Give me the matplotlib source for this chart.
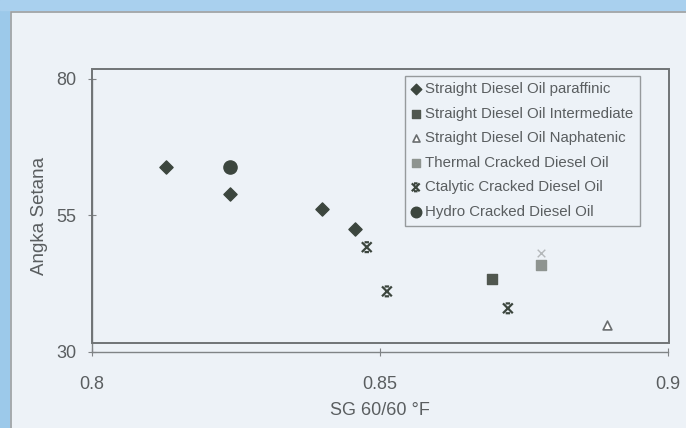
import matplotlib.pyplot as plt
from matplotlib.path import Path
from matplotlib.patches import Rectangle

plt.rcParams['font.family'] = ['Liberation Sans', 'DejaVu Sans']

# data
paraffinic_sg = [0.8128, 0.8240, 0.8399, 0.8457]
paraffinic_cn = [63.8, 59.0, 56.1, 52.6]
intermediate_sg = [0.8694]
intermediate_cn = [43.3]
naphthenic_sg = [0.8894]
naphthenic_cn = [34.9]
thermal_sg = [0.8780]
thermal_cn = [45.9]
thermal_ghost_cn = [48.1]
catalytic_sg = [0.8477, 0.8512, 0.8722]
catalytic_cn = [49.2, 41.1, 38.0]
hydro_sg = [0.8240]
hydro_cn = [63.8]

x_ticks = [0.8, 0.85, 0.9]
x_labels = ['0.8', '0.85', '0.9']
y_ticks = [30, 55, 80]

W, H = 686, 428
dark = '#3c463e'
txt = '#5a5e60'
bg = '#edf2f7'

# star-like marker: an X with short bars top and bottom
star = Path([(-1, -1), (1, 1), (-1, 1), (1, -1), (-0.45, 1), (0.45, 1), (-0.45, -1), (0.45, -1)],
            [Path.MOVETO, Path.LINETO] * 4)

fig = plt.figure(figsize=(W / 100, H / 100), dpi=100, facecolor=bg)
# scan edges and chart frame
fig.patches.append(Rectangle((0, 0), 9 / W, 1, transform=fig.transFigure, color='#9cc9ea', zorder=0))
fig.patches.append(Rectangle((0, 1 - 10 / H), 1, 10 / H, transform=fig.transFigure, color='#a9d0ee', zorder=0))
fig.patches.append(Rectangle((11 / W, -0.1), 1, 1 - 12 / H + 0.1, transform=fig.transFigure,
                             fill=False, ec='#9a9ea0', lw=1.2, zorder=1))
# plot area border (offset from the axes, as in the scan)
fig.patches.append(Rectangle((92 / W, 1 - 343 / H), (669 - 92) / W, (343 - 69) / H,
                             transform=fig.transFigure, fill=False, ec='#707476', lw=1.4, zorder=1))

ax = fig.add_axes([92 / W, 1 - 352 / H, (668 - 92) / W, (352 - 79) / H])
ax.set_facecolor('none')
ax.set_xlim(0.8, 0.9)
ax.set_ylim(30, 80)
for s in ['top', 'right']:
    ax.spines[s].set_visible(False)
for s in ['left', 'bottom']:
    ax.spines[s].set_color('#808486')
    ax.spines[s].set_linewidth(1.0)
ax.set_xticks(x_ticks)
ax.set_xticklabels(x_labels)
ax.set_yticks(y_ticks)
ax.tick_params(colors='#808486', labelcolor=txt, labelsize=13, direction='inout', length=6, pad=14)
ax.tick_params(axis='y', pad=8)

ax.scatter(paraffinic_sg, paraffinic_cn, marker='D', s=45, color=dark, label='Straight Diesel Oil paraffinic', zorder=3)
ax.scatter(intermediate_sg, intermediate_cn, marker='s', s=55, color='#50574f', label='Straight Diesel Oil Intermediate', zorder=3)
ax.scatter(naphthenic_sg, naphthenic_cn, marker='^', s=40, facecolor='white', edgecolor='#6a6e70', linewidth=1.2,
           label='Straight Diesel Oil Naphatenic', zorder=3)
ax.scatter(thermal_sg, thermal_cn, marker='s', s=60, color='#8e9490', label='Thermal Cracked Diesel Oil', zorder=3)
ax.scatter(thermal_sg, thermal_ghost_cn, marker='x', s=30, color='#b4b8ba', linewidth=1, zorder=2)
ax.scatter(catalytic_sg, catalytic_cn, marker=star, s=50, facecolor='none', edgecolor=dark, linewidth=1.6,
           label='Ctalytic Cracked Diesel Oil', zorder=3)
ax.scatter(hydro_sg, hydro_cn, marker='o', s=90, color=dark, label='Hydro Cracked Diesel Oil', zorder=3)

ax.set_xlabel('SG 60/60 °F', fontsize=13, color=txt, labelpad=7)
ax.set_ylabel('Angka Setana', fontsize=13.5, color=txt, labelpad=6)

leg = fig.legend(loc='upper left', bbox_to_anchor=(397 / W, 1 - 68 / H), fontsize=10.8,
                 frameon=True, fancybox=False, edgecolor='#808486', facecolor=bg,
                 handlelength=0.6, handletextpad=0.3, labelspacing=0.7, borderpad=0.45,
                 labelcolor=txt, markerscale=0.8)
leg.get_frame().set_linewidth(1.0)
leg.set_zorder(5)

fig.savefig('out.png', dpi=100, facecolor=bg)
